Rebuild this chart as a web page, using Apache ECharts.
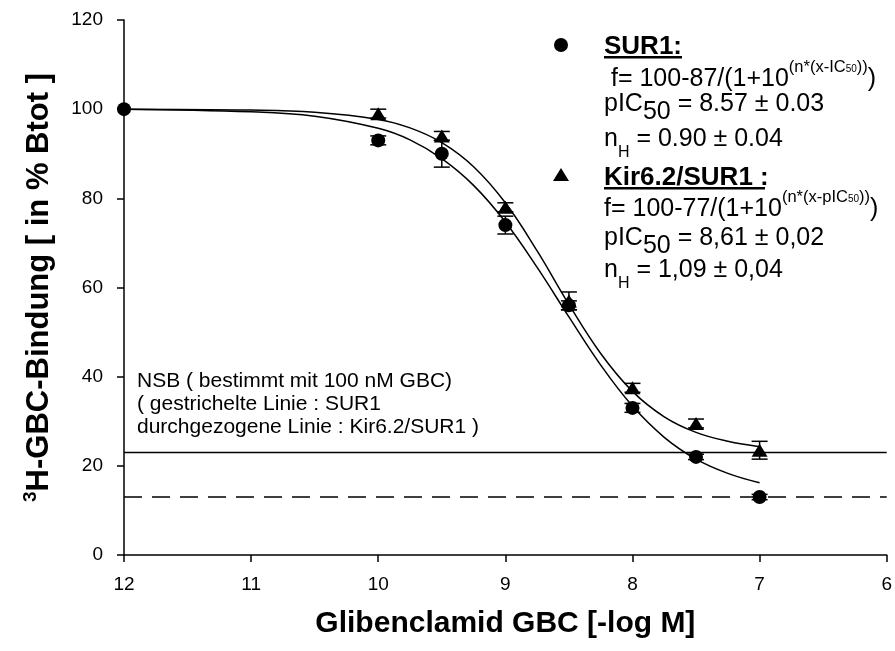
<!DOCTYPE html>
<html><head><meta charset="utf-8">
<script src="https://cdn.jsdelivr.net/npm/echarts@6/dist/echarts.min.js"></script>
<style>html,body{margin:0;padding:0;background:#fff}#c{width:895px;height:651px}</style>
</head><body><div id="c"></div>
<script>
// ---- data ----
const xTicks = [12, 11, 10, 9, 8, 7, 6];
const yTicks = [0, 20, 40, 60, 80, 100, 120];
const sur1X = [12, 10, 9.5, 9, 8.5, 8, 7.5, 7];
const sur1Mean = [100, 93, 90, 74, 56, 33, 22, 13];
const sur1Err = [0, 1, 3, 2, 1, 1, 0.6, 0.6];
const kirX = [10, 9.5, 9, 8.5, 8, 7.5, 7];
const kirMean = [99, 94, 78, 57, 37.5, 29.5, 23.5];
const kirErr = [1, 1, 1, 2, 1, 1, 2];
const fitX = [12, 11, 10.5, 10, 9.75, 9.5, 9.25, 9, 8.75, 8.5, 8.25, 8, 7.75, 7.5, 7.25, 7];
const sur1Fit = [100, 99.4, 98.4, 95.7, 93.1, 88.9, 82.9, 74.7, 64.5, 53.4, 42.6, 33.4, 26.4, 21.5, 18.3, 16.2];
const kirFit = [100, 99.8, 99.3, 97.7, 95.8, 92.5, 87.1, 79.0, 68.2, 56.2, 45.2, 36.7, 31.0, 27.5, 25.5, 24.3];
const nsbX = [12, 6];
const nsbSur1 = [13, 13];
const nsbKir = [23, 23];

const FF = '"Liberation Sans", Arial, sans-serif';
const zip = (xs, ys) => xs.map((x, i) => [x, ys[i]]);

function errBars(xs, means, errs) {
  return {
    type: 'custom', silent: true, z: 3,
    data: xs.map((x, i) => [x, means[i] - errs[i], means[i] + errs[i]]).filter((d, i) => errs[i] > 0),
    encode: {x: 0, y: [1, 2]},
    renderItem(params, api) {
      const lo = api.coord([api.value(0), api.value(1)]);
      const hi = api.coord([api.value(0), api.value(2)]);
      const w = 8, st = {stroke: '#000', lineWidth: 1.5};
      return {type: 'group', children: [
        {type: 'line', shape: {x1: lo[0], y1: lo[1], x2: hi[0], y2: hi[1]}, style: st},
        {type: 'line', shape: {x1: lo[0] - w, y1: lo[1], x2: lo[0] + w, y2: lo[1]}, style: st},
        {type: 'line', shape: {x1: hi[0] - w, y1: hi[1], x2: hi[0] + w, y2: hi[1]}, style: st}
      ]};
    }
  };
}

const R = {
  m: {fontFamily: FF, fontSize: 25, lineHeight: 28, padding: [8, 0, 0, 0], verticalAlign: 'top', fill: '#000'},
  p: {fontFamily: FF, fontSize: 16.5, lineHeight: 10, verticalAlign: 'top', fill: '#000'},
  q: {fontFamily: FF, fontSize: 10, lineHeight: 8, padding: [6, 0, 0, 0], verticalAlign: 'top', fill: '#000'},
  s: {fontFamily: FF, fontSize: 25, lineHeight: 28, padding: [16, 0, 0, 0], verticalAlign: 'top', fill: '#000'},
  h: {fontFamily: FF, fontSize: 16, lineHeight: 16, padding: [26, 0, 0, 0], verticalAlign: 'top', fill: '#000'}
};
function rt(x, y, text) {
  return {type: 'text', x: x, y: y, z: 10, style: {text: text, rich: R, fill: '#000', font: '25px ' + FF, verticalAlign: 'top', align: 'left'}};
}

const chart = echarts.init(document.getElementById('c'), null, {renderer: 'canvas'});
chart.setOption({
  animation: false,
  backgroundColor: '#fff',
  grid: {left: 124, right: 4, top: 20, bottom: 96},
  xAxis: {
    type: 'value', inverse: true, min: 6, max: 12, interval: 1,
    name: 'Glibenclamid GBC [-log M]', nameLocation: 'middle', nameGap: 54,
    nameTextStyle: {fontFamily: FF, fontSize: 30, fontWeight: 'bold', color: '#000'},
    axisLine: {lineStyle: {color: '#000', width: 1.5}},
    axisTick: {length: 7, lineStyle: {color: '#000', width: 1.5}},
    axisLabel: {fontFamily: FF, fontSize: 19, color: '#000', margin: 20, formatter: v => xTicks.includes(v) ? String(v) : ''},
    splitLine: {show: false}
  },
  yAxis: {
    type: 'value', min: 0, max: 120, interval: 20,
    name: '{s|3}{b|H-GBC-Bindung [ in % Btot ]}', nameLocation: 'middle', nameGap: 72, nameRotate: 90,
    nameTextStyle: {rich: {
      s: {fontFamily: FF, fontSize: 19, fontWeight: 'bold', lineHeight: 14, padding: [3, 0, 0, 0], verticalAlign: 'top', color: '#000'},
      b: {fontFamily: FF, fontSize: 31, fontWeight: 'bold', lineHeight: 34, padding: [6, 0, 0, 0], verticalAlign: 'top', color: '#000'}
    }},
    axisLine: {show: true, lineStyle: {color: '#000', width: 1.5}},
    axisTick: {show: true, length: 7, lineStyle: {color: '#000', width: 1.5}},
    axisLabel: {fontFamily: FF, fontSize: 19, color: '#000', margin: 21, formatter: v => yTicks.includes(v) ? String(v) : ''},
    splitLine: {show: false}
  },
  series: [
    {type: 'line', data: zip(nsbX, nsbKir), symbol: 'none', lineStyle: {color: '#000', width: 1.5}, z: 1, silent: true},
    {type: 'line', data: zip(nsbX, nsbSur1), symbol: 'none', lineStyle: {color: '#000', width: 1.5, type: [18, 10]}, z: 1, silent: true},
    {type: 'line', data: zip(fitX, sur1Fit), smooth: 0.4, symbol: 'none', lineStyle: {color: '#000', width: 1.5}, z: 2, silent: true},
    {type: 'line', data: zip(fitX, kirFit), smooth: 0.4, symbol: 'none', lineStyle: {color: '#000', width: 1.5}, z: 2, silent: true},
    errBars(sur1X, sur1Mean, sur1Err),
    errBars(kirX, kirMean, kirErr),
    {type: 'scatter', data: zip(kirX, kirMean), symbol: 'triangle', symbolSize: [16, 13], itemStyle: {color: '#000', opacity: 1}, z: 4, silent: true},
    {type: 'scatter', data: zip(sur1X, sur1Mean), symbol: 'circle', symbolSize: 14, itemStyle: {color: '#000', opacity: 1}, z: 5, silent: true}
  ],
  graphic: [
    {type: 'circle', shape: {cx: 561, cy: 45, r: 7}, style: {fill: '#000'}, z: 10},
    {type: 'polygon', shape: {points: [[561, 168], [569, 181], [553, 181]]}, style: {fill: '#000'}, z: 10},
    {type: 'text', x: 604, y: 47, z: 10, style: {text: 'SUR1:', font: 'bold 26px ' + FF, fill: '#000', verticalAlign: 'middle', align: 'left'}},
    {type: 'rect', shape: {x: 604, y: 56, width: 78, height: 2.5}, style: {fill: '#000'}, z: 10},
    rt(604, 58.5, '{m| f= 100-87/(1+10}{p|(n*(x-IC}{q|50}{p|))}{m|)}'),
    rt(604, 83.5, '{m|pIC}{s|50}{m| = 8.57 ± 0.03}'),
    rt(604, 118.5, '{m|n}{h|H}{m| = 0.90 ± 0.04}'),
    {type: 'text', x: 604, y: 178, z: 10, style: {text: 'Kir6.2/SUR1 :', font: 'bold 26px ' + FF, fill: '#000', verticalAlign: 'middle', align: 'left'}},
    {type: 'rect', shape: {x: 604, y: 187, width: 161, height: 2.5}, style: {fill: '#000'}, z: 10},
    rt(604, 188.5, '{m|f= 100-77/(1+10}{p|(n*(x-pIC}{q|50}{p|))}{m|)}'),
    rt(604, 217.5, '{m|pIC}{s|50}{m| = 8,61 ± 0,02}'),
    rt(604, 249.5, '{m|n}{h|H}{m| = 1,09 ± 0,04}'),
    {type: 'text', x: 137, y: 370, z: 10, style: {text: 'NSB ( bestimmt mit 100 nM GBC)\n( gestrichelte Linie : SUR1\ndurchgezogene Linie : Kir6.2/SUR1 )', font: '21px ' + FF, lineHeight: 23, fill: '#000', verticalAlign: 'top', align: 'left'}}
  ]
});
</script></body></html>
